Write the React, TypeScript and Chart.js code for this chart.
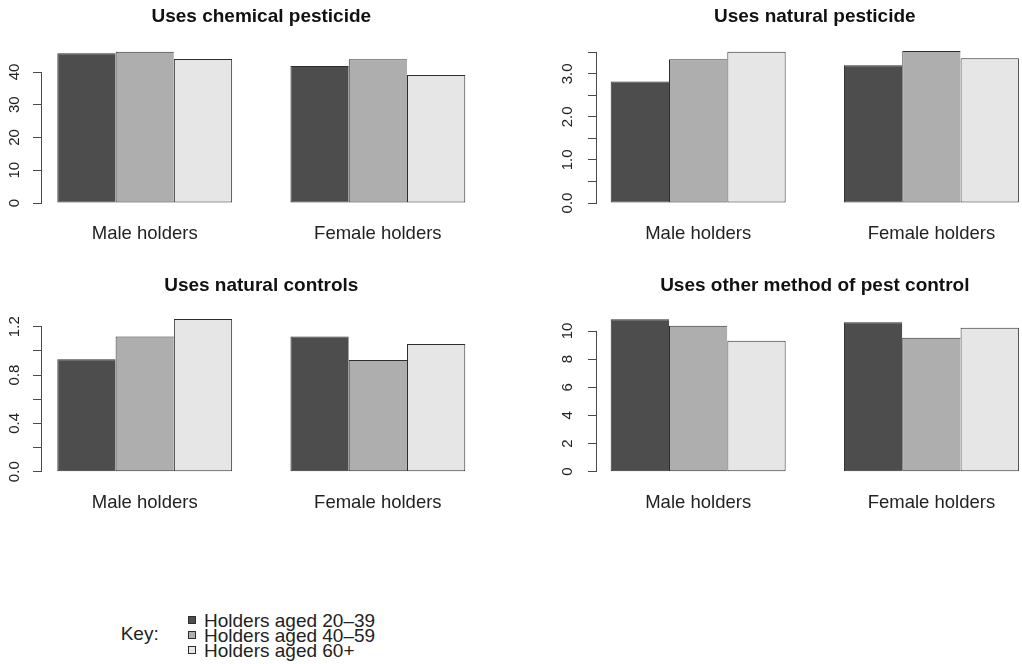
import React, { useEffect, useRef } from "react";
import { Chart, registerables } from "chart.js";

Chart.register(...registerables);

// ---------- data ----------
const CATEGORIES = ["Male holders", "Female holders"];
const AGE_GROUPS = ["Holders aged 20–39", "Holders aged 40–59", "Holders aged 60+"];

const CHEMICAL_20_39 = [45.7, 41.8];
const CHEMICAL_40_59 = [46.2, 43.9];
const CHEMICAL_60_PLUS = [44.0, 39.1];
const CHEMICAL_TICKS = [0, 10, 20, 30, 40];
const CHEMICAL_TICK_LABELS = ["0", "10", "20", "30", "40"];

const NATURAL_PEST_20_39 = [2.82, 3.2];
const NATURAL_PEST_40_59 = [3.34, 3.53];
const NATURAL_PEST_60_PLUS = [3.51, 3.36];
const NATURAL_PEST_TICKS = [0, 0.5, 1, 1.5, 2, 2.5, 3, 3.5];
const NATURAL_PEST_TICK_LABELS = ["0.0", "", "1.0", "", "2.0", "", "3.0", ""];

const NATURAL_CTRL_20_39 = [0.93, 1.118];
const NATURAL_CTRL_40_59 = [1.118, 0.925];
const NATURAL_CTRL_60_PLUS = [1.264, 1.057];
const NATURAL_CTRL_TICKS = [0, 0.2, 0.4, 0.6, 0.8, 1.0, 1.2];
const NATURAL_CTRL_TICK_LABELS = ["0.0", "", "0.4", "", "0.8", "", "1.2"];

const OTHER_20_39 = [10.83, 10.62];
const OTHER_40_59 = [10.38, 9.52];
const OTHER_60_PLUS = [9.31, 10.23];
const OTHER_TICKS = [0, 2, 4, 6, 8, 10];
const OTHER_TICK_LABELS = ["0", "2", "4", "6", "8", "10"];

const TITLES = [
  "Uses chemical pesticide",
  "Uses natural pesticide",
  "Uses natural controls",
  "Uses other method of pest control",
];

// ---------- styles ----------
const FONT = '"Liberation Sans", Arial, Helvetica, sans-serif';
const FILLS = ["#4d4d4d", "#aeaeae", "#e6e6e6"];
const BAR_BORDER = "#2e2e2e";
const AXIS_COLOR = "#4a4a4a";
const TEXT_COLOR = "#222222";
const TICK_FONT_SIZE = 15;
const NAME_FONT_SIZE = 18.5;
const LEGEND_FONT_SIZE = 19;
const TITLE_FONT_SIZE = 19;
const TICK_LENGTH = 8;
const NAME_PAD = 20;

// ---------- layout (page pixels) ----------
const PANEL_LAYOUTS = [
  { left: 0, top: 0, width: 511, height: 265, chartLeft: 41, chartRight: 481.6, chartTop: 72, chartBottom: 203, xMin: -0.445, xMax: 1.445, labelGap: 26, titleY: 22 },
  { left: 520, top: 0, width: 502, height: 265, chartLeft: 596, chartRight: 1021, chartTop: 52.3, chartBottom: 203, xMin: -0.438, xMax: 1.384, labelGap: 28, titleY: 22 },
  { left: 0, top: 265, width: 511, height: 265, chartLeft: 41, chartRight: 481.6, chartTop: 326.7, chartBottom: 471.7, xMin: -0.445, xMax: 1.445, labelGap: 26, titleY: 25.5 },
  { left: 520, top: 265, width: 502, height: 265, chartLeft: 596, chartRight: 1021, chartTop: 331, chartBottom: 471.7, xMin: -0.438, xMax: 1.384, labelGap: 28, titleY: 25.5 },
];

const PANELS = [
  { title: TITLES[0], series: [CHEMICAL_20_39, CHEMICAL_40_59, CHEMICAL_60_PLUS], ticks: CHEMICAL_TICKS, tickLabels: CHEMICAL_TICK_LABELS },
  { title: TITLES[1], series: [NATURAL_PEST_20_39, NATURAL_PEST_40_59, NATURAL_PEST_60_PLUS], ticks: NATURAL_PEST_TICKS, tickLabels: NATURAL_PEST_TICK_LABELS },
  { title: TITLES[2], series: [NATURAL_CTRL_20_39, NATURAL_CTRL_40_59, NATURAL_CTRL_60_PLUS], ticks: NATURAL_CTRL_TICKS, tickLabels: NATURAL_CTRL_TICK_LABELS },
  { title: TITLES[3], series: [OTHER_20_39, OTHER_40_59, OTHER_60_PLUS], ticks: OTHER_TICKS, tickLabels: OTHER_TICK_LABELS },
];

const LEGEND_BASELINES = [627.6, 642.4, 657.2];
const KEY_BASELINE = 641;

function widestLabel(labels: string[], size: number): number {
  const ctx = document.createElement("canvas").getContext("2d");
  if (!ctx) return 0;
  ctx.font = `${size}px ${FONT}`;
  return Math.max(...labels.map((l) => ctx.measureText(l).width));
}

const panelTitlePlugin = {
  id: "panelTitle",
  afterDraw(chart: any, _args: any, opts: any) {
    const x = chart.scales.x;
    const cx = (x.getPixelForValue(0) + x.getPixelForValue(CATEGORIES.length - 1)) / 2;
    const ctx = chart.ctx;
    ctx.save();
    ctx.font = `bold ${TITLE_FONT_SIZE}px ${FONT}`;
    ctx.fillStyle = "#111111";
    ctx.textAlign = "center";
    ctx.textBaseline = "alphabetic";
    ctx.fillText(opts.text, cx, opts.y);
    ctx.restore();
  },
};

function Panel({ index }: { index: number }) {
  const ref = useRef<HTMLCanvasElement | null>(null);
  const L = PANEL_LAYOUTS[index];
  const spec = PANELS[index];

  useEffect(() => {
    const canvas = ref.current;
    if (!canvas) return;
    const widest = widestLabel(spec.tickLabels, TICK_FONT_SIZE);
    const yPad = L.labelGap - TICK_LENGTH - widest / 2;
    const n = spec.series.length;

    const chart = new Chart(canvas, {
      type: "bar",
      data: {
        datasets: spec.series.map((vals, i) => ({
          label: AGE_GROUPS[i],
          data: CATEGORIES.map((_, j) => ({ x: j, y: vals[j] })),
          backgroundColor: FILLS[i],
          borderColor: BAR_BORDER,
          borderWidth: { left: 1, top: 1, bottom: 1, right: i === n - 1 ? 1 : 0 },
          borderSkipped: false,
          categoryPercentage: 0.75,
          barPercentage: 1,
          clip: false,
        })),
      } as any,
      options: {
        responsive: false,
        animation: false,
        devicePixelRatio: 1,
        events: [],
        layout: {
          padding: {
            top: L.chartTop - L.top,
            left: 0,
            right: L.left + L.width - L.chartRight,
            bottom: 0,
          },
        },
        plugins: {
          legend: { display: false },
          tooltip: { enabled: false },
          panelTitle: { text: spec.title, y: L.titleY },
        } as any,
        scales: {
          x: {
            type: "linear",
            min: L.xMin,
            max: L.xMax,
            offset: false,
            afterBuildTicks: (s: any) => {
              s.ticks = CATEGORIES.map((_, i) => ({ value: i }));
            },
            afterFit: (s: any) => {
              s.height = L.top + L.height - L.chartBottom;
            },
            ticks: {
              autoSkip: false,
              minRotation: 0,
              maxRotation: 0,
              padding: NAME_PAD,
              font: { family: FONT, size: NAME_FONT_SIZE },
              color: TEXT_COLOR,
              callback: (_v: any, i: number) => CATEGORIES[i],
            },
            grid: { display: false, drawTicks: false, offset: false },
            border: { display: false },
          },
          y: {
            type: "linear",
            min: spec.ticks[0],
            max: spec.ticks[spec.ticks.length - 1],
            afterBuildTicks: (s: any) => {
              s.ticks = spec.ticks.map((v) => ({ value: v }));
            },
            afterFit: (s: any) => {
              s.width = L.chartLeft - L.left;
            },
            ticks: {
              autoSkip: false,
              minRotation: 90,
              maxRotation: 90,
              crossAlign: "center",
              padding: yPad,
              font: { family: FONT, size: TICK_FONT_SIZE },
              color: TEXT_COLOR,
              callback: (_v: any, i: number) => spec.tickLabels[i],
            },
            grid: {
              display: true,
              drawOnChartArea: false,
              drawTicks: true,
              tickLength: TICK_LENGTH,
              color: AXIS_COLOR,
              lineWidth: 1,
            },
            border: { display: true, color: AXIS_COLOR, width: 1 },
          },
        } as any,
      },
      plugins: [panelTitlePlugin],
    });
    return () => chart.destroy();
  }, []);

  return (
    <canvas
      ref={ref}
      width={L.width}
      height={L.height}
      style={{ position: "absolute", left: L.left, top: L.top, width: L.width, height: L.height, display: "block" }}
    />
  );
}

const legendText: React.CSSProperties = {
  position: "absolute",
  fontFamily: FONT,
  fontSize: LEGEND_FONT_SIZE,
  lineHeight: "20px",
  color: TEXT_COLOR,
  whiteSpace: "nowrap",
};

export default function App() {
  return (
    <div
      style={{
        position: "absolute",
        left: 0,
        top: 0,
        width: 1022,
        height: 664,
        background: "#ffffff",
        overflow: "hidden",
      }}
    >
      {PANELS.map((_, i) => (
        <Panel key={i} index={i} />
      ))}
      <div style={{ ...legendText, left: 120.7, top: KEY_BASELINE - 16.6 }}>Key:</div>
      {AGE_GROUPS.map((g, i) => (
        <React.Fragment key={g}>
          <div
            style={{
              position: "absolute",
              left: 188,
              top: LEGEND_BASELINES[i] - 11.3,
              width: 8,
              height: 8,
              boxSizing: "border-box",
              background: FILLS[i],
              border: `1px solid ${BAR_BORDER}`,
            }}
          />
          <div style={{ ...legendText, left: 204, top: LEGEND_BASELINES[i] - 16.6 }}>{g}</div>
        </React.Fragment>
      ))}
    </div>
  );
}
